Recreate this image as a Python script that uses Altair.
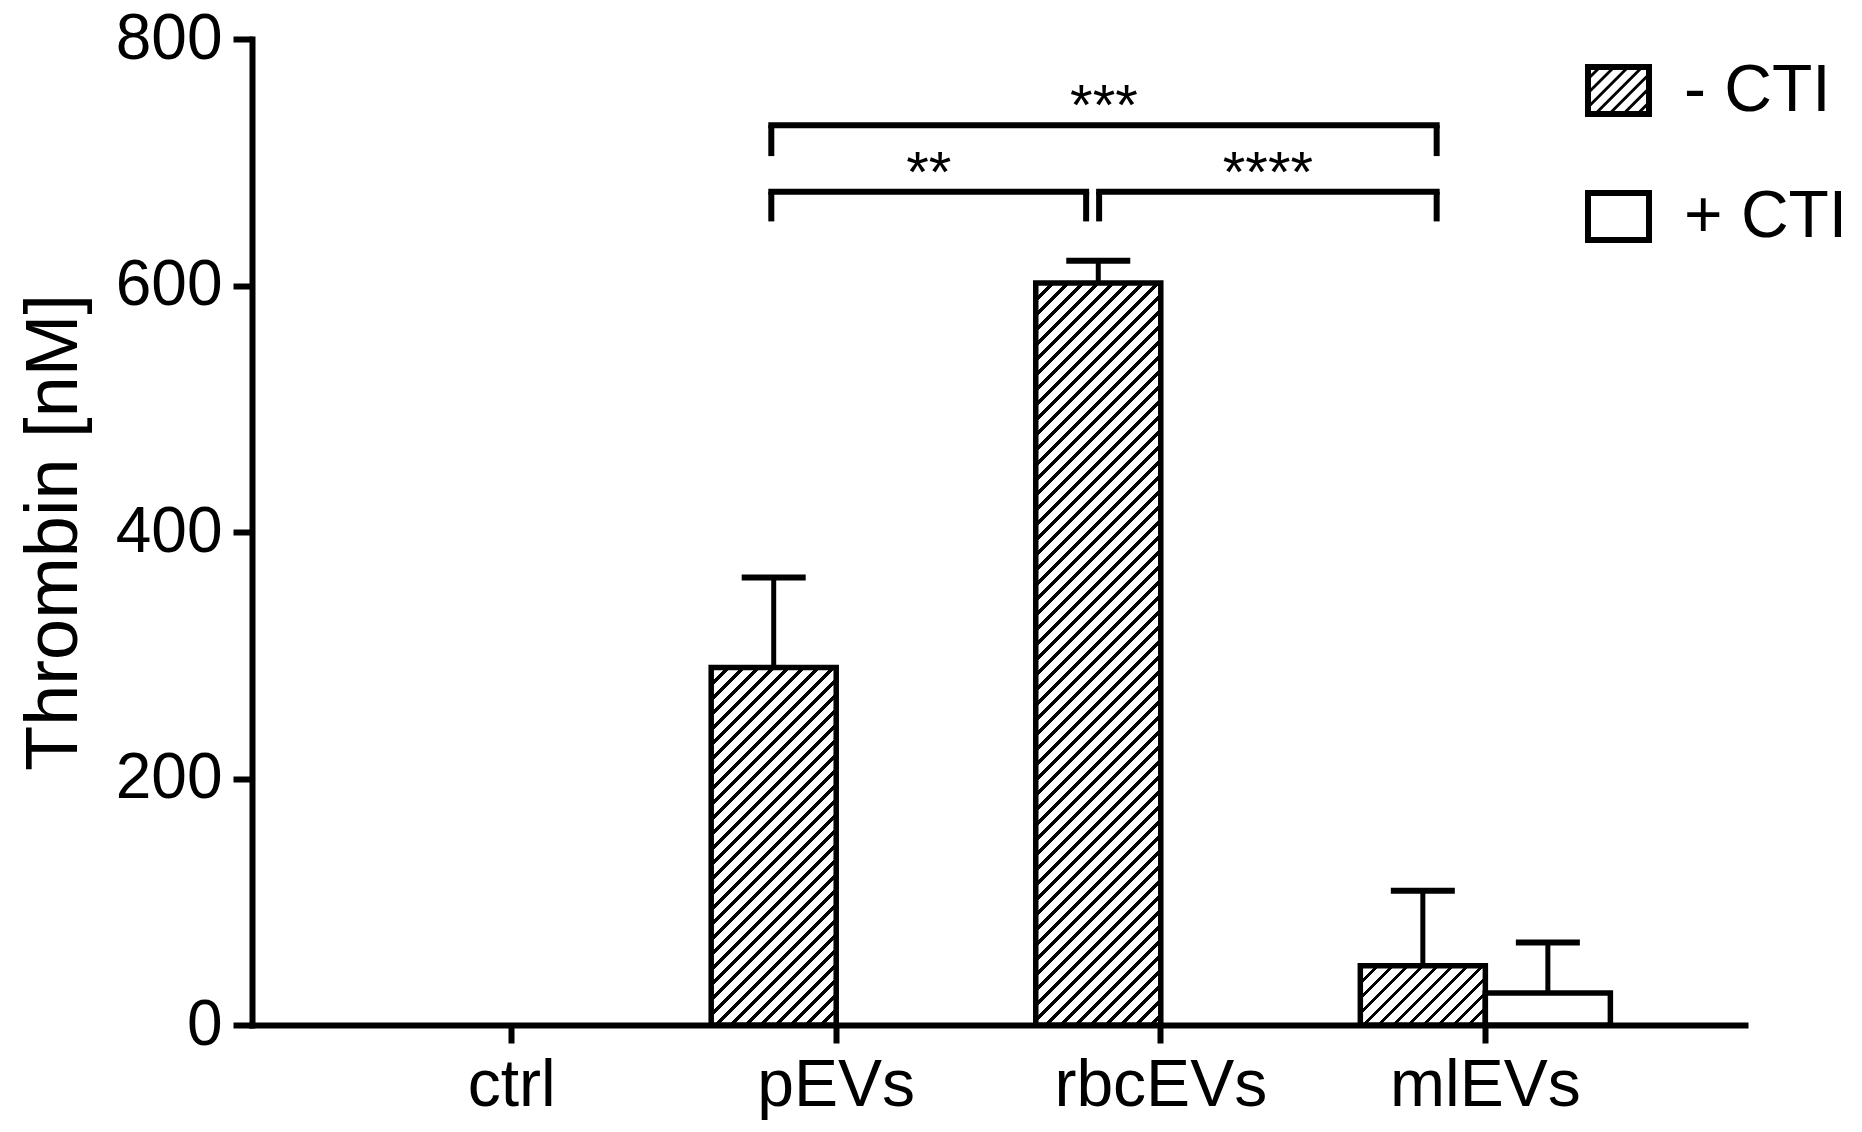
import altair as alt
import pandas as pd

# ---------------- data ----------------
categories = ["ctrl", "pEVs", "rbcEVs", "mlEVs"]
groups = ["- CTI", "+ CTI"]
minus_mean = [None, 290, 602, 48]
minus_err = [None, 73, 18, 61]
plus_mean = [None, None, None, 26]
plus_err = [None, None, None, 41]

# significance brackets (x in category-index units, y in nM)
bracket_start = [0.80, 0.80, 1.81]
bracket_end = [2.85, 1.77, 2.85]
bracket_y = [730, 676, 676]
bracket_leg = [705, 652, 652]
bracket_label = ["***", "**", "****"]

# ---------------- layout / style ----------------
FONT = "Liberation Sans"
W, H = 1493, 986
Y_MAX = 800
PAD_OUT = 0.3
PAD_OFF = 0.298

rows = []
for i, c in enumerate(categories):
    if minus_mean[i] is not None:
        rows.append({"cat": c, "grp": groups[0], "mean": minus_mean[i],
                     "upper": minus_mean[i] + minus_err[i]})
    if plus_mean[i] is not None:
        rows.append({"cat": c, "grp": groups[1], "mean": plus_mean[i],
                     "upper": plus_mean[i] + plus_err[i]})
df = pd.DataFrame(rows)

bdf = pd.DataFrame({
    "start": bracket_start, "end": bracket_end, "y": bracket_y,
    "leg": bracket_leg, "label": bracket_label,
})
bdf["mid"] = (bdf["start"] + bdf["end"]) / 2

step = W / (len(categories) + 2 * PAD_OUT)
sub_w = step / (2 + 2 * PAD_OFF)
px_per_unit = H / Y_MAX


def hatch(w, h, per_x=15.0, per_y=15.0, frac=0.3):
    a, b = 1.0 / per_x, 1.0 / per_y
    N = a * w + b * h
    k = N / (a * a * w * w + b * b * h * h)
    stops = []
    j = 0
    while j < N:
        s0, s1, s2 = j, j + frac, j + 1
        for off, col in [(s0, "black"), (s1, "black"), (s1, "white"), (s2, "white")]:
            stops.append(alt.GradientStop(offset=min(off / N, 1.0), color=col))
        j += 1
    return alt.LinearGradient(gradient="linear", stops=stops,
                              x1=0, y1=0, x2=k * a * w, y2=k * b * h)


def clip(poly, a, b, c):
    out = []
    n = len(poly)
    for i in range(n):
        p = poly[i]
        q = poly[(i + 1) % n]
        fp = a * p[0] + b * p[1] - c
        fq = a * q[0] + b * q[1] - c
        if fp <= 0:
            out.append(p)
        if (fp < 0 < fq) or (fq < 0 < fp):
            t = fp / (fp - fq)
            out.append((p[0] + t * (q[0] - p[0]), p[1] + t * (q[1] - p[1])))
    return out


def poly_path(pts):
    return "M" + "L".join(f"{x:.3f},{y:.3f}" for x, y in pts) + "Z"


def legend_symbol(hatched):
    ox, oy = 1.0, 53 / 67
    th = 6 / 33.5
    ix, iy = ox - th, oy - th
    outer = [(-ox, -oy), (ox, -oy), (ox, oy), (-ox, oy)]
    inner_hole = [(-ix, -iy), (-ix, iy), (ix, iy), (ix, -iy)]
    path = poly_path(outer) + poly_path(inner_hole)
    if hatched:
        inner_cw = [(-ix, -iy), (ix, -iy), (ix, iy), (-ix, iy)]
        per, d = 0.42, 0.12
        c = -(ix + iy) + 0.12
        while c < ix + iy:
            p = clip(inner_cw, 1, 1, c + d)
            p = clip(p, -1, -1, -c)
            if len(p) >= 3:
                path += poly_path(p)
            c += per
    return path


x_axis = alt.Axis(labelFontSize=66, labelFont=FONT, labelColor="black", labelAngle=0,
                  labelPadding=10, labelLimit=0, tickSize=18, tickWidth=6,
                  tickColor="black", domainColor="black", domainWidth=6,
                  domainCap="square", title=None, grid=False)
y_axis = alt.Axis(values=[0, 200, 400, 600, 800], labelFontSize=64, labelFont=FONT,
                  labelColor="black", labelPadding=11, tickSize=19, tickWidth=6,
                  tickColor="black", domainColor="black", domainWidth=6,
                  domainCap="square", grid=False, title="Thrombin [nM]",
                  titleFontSize=74, titleFont=FONT, titleFontWeight="normal",
                  titleColor="black", titlePadding=23)

x_scale = alt.Scale(domain=categories, paddingInner=0, paddingOuter=PAD_OUT)
off_scale = alt.Scale(domain=groups, paddingInner=0, paddingOuter=PAD_OFF)
y_scale = alt.Scale(domain=[0, Y_MAX], nice=False, zero=True)

x_enc = alt.X("cat:N", scale=x_scale, axis=x_axis, title=None)
off_enc = alt.XOffset("grp:N", scale=off_scale)


def yq(field):
    return alt.Y(f"{field}:Q", scale=y_scale, axis=y_axis, title="Thrombin [nM]")


band_layers = []

# error bar stems
band_layers.append(
    alt.Chart(df).mark_rule(color="black", strokeWidth=5).encode(
        x=x_enc, xOffset=off_enc, y=yq("mean"), y2="upper:Q")
)

# bars (one layer per bar so each hatched bar gets its own fill)
for r in rows:
    h = r["mean"] * px_per_unit
    fill = hatch(sub_w, h) if r["grp"] == groups[0] else "white"
    band_layers.append(
        alt.Chart(df)
        .transform_filter(f"datum.cat === '{r['cat']}' && datum.grp === '{r['grp']}'")
        .mark_bar(fill=fill, stroke="black", strokeWidth=5.5, strokeJoin="miter")
        .encode(x=x_enc, xOffset=off_enc, y=yq("mean"))
    )

# error bar caps
band_layers.append(
    alt.Chart(df).mark_tick(color="black", size=64, thickness=6, opacity=1).encode(
        x=x_enc, xOffset=off_enc, y=yq("upper"))
)

# brackets
bx = alt.Scale(domain=[-0.8, 3.8], nice=False, zero=False)
bracket_layers = [
    alt.Chart(bdf).mark_rule(color="black", strokeWidth=6, strokeCap="square").encode(
        x=alt.X("start:Q", scale=bx, axis=None), x2="end:Q", y=yq("y")),
    alt.Chart(bdf).mark_rule(color="black", strokeWidth=6).encode(
        x=alt.X("start:Q", scale=bx, axis=None), y=yq("y"), y2="leg:Q"),
    alt.Chart(bdf).mark_rule(color="black", strokeWidth=6).encode(
        x=alt.X("end:Q", scale=bx, axis=None), y=yq("y"), y2="leg:Q"),
    alt.Chart(bdf).mark_text(color="black", fontSize=58, font=FONT, baseline="alphabetic",
                             align="center").encode(
        x=alt.X("mid:Q", scale=bx, axis=None), y=yq("y"), text="label:N"),
]

# legend
legend_layer = (
    alt.Chart(df).transform_filter("false")
    .mark_point(filled=True, color="black", opacity=1)
    .encode(shape=alt.Shape(
        "grp:N",
        scale=alt.Scale(domain=groups, range=[legend_symbol(True), legend_symbol(False)]),
        legend=alt.Legend(title=None, orient="none", legendX=1333, legendY=18,
                          symbolSize=4489, symbolStrokeWidth=0, symbolFillColor="black",
                          symbolOpacity=1, labelFontSize=66, labelFont=FONT,
                          labelColor="black", labelOffset=32, labelLimit=0,
                          rowPadding=59, padding=0),
    ))
)

chart = (
    alt.layer(alt.layer(*band_layers), alt.layer(*bracket_layers), legend_layer)
    .resolve_scale(x="independent")
    .properties(width=W, height=H,
                padding={"left": 244, "top": 31, "right": 109, "bottom": 97},
                autosize=alt.AutoSizeParams(type="none"))
    .configure(font=FONT, background="white")
    .configure_view(strokeWidth=0, stroke=None)
)

chart.save("out.html", embed_options={"renderer": "svg", "actions": False})
